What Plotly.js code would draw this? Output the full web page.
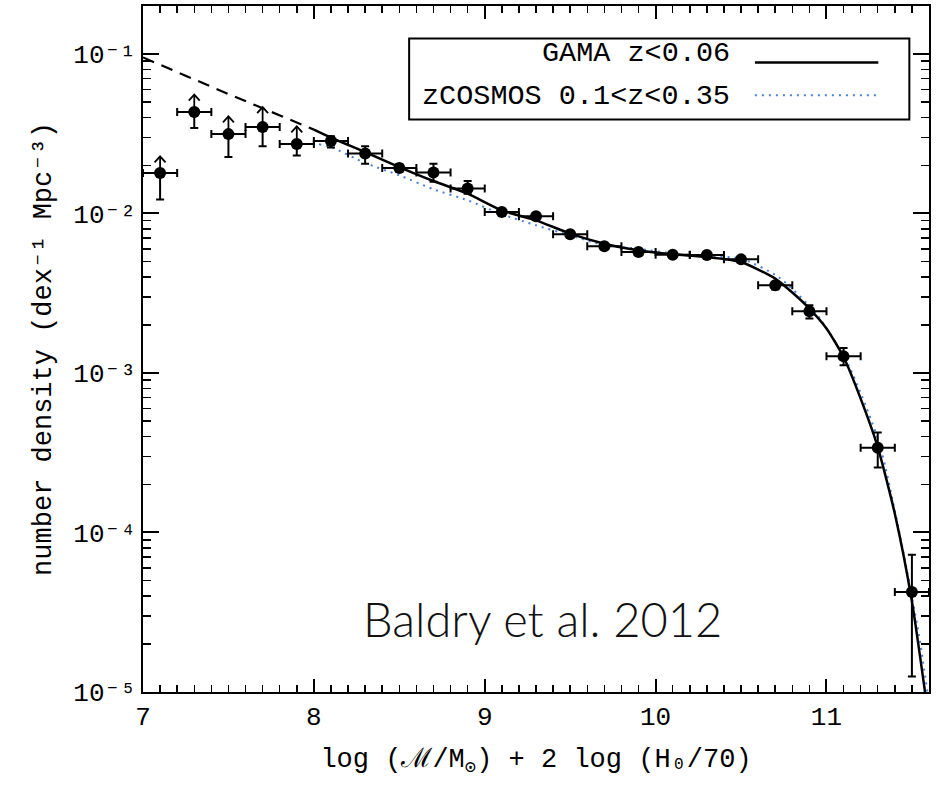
<!DOCTYPE html>
<html>
<head>
<meta charset="utf-8">
<script src="https://cdn.plot.ly/plotly-3.0.1.min.js"></script>
<style>html,body{margin:0;padding:0;background:#fff;}</style>
</head>
<body>
<div id="chart" style="width:943px;height:788px;"></div>
<script>
// ---- data ----
var massX   = [7.1, 7.3, 7.5, 7.7, 7.9, 8.1, 8.3, 8.5, 8.7, 8.9, 9.1, 9.3, 9.5, 9.7, 9.9, 10.1, 10.3, 10.5, 10.7, 10.9, 11.1, 11.3, 11.5];
var phi     = [0.0179, 0.0432, 0.0314, 0.0348, 0.0272, 0.0284, 0.0237, 0.01925, 0.01803, 0.0143, 0.0102, 0.00959, 0.0074, 0.00622, 0.00573, 0.00551, 0.00548, 0.00515, 0.00354, 0.002433, 0.00127, 0.00034, 4.24e-5];
var phiHi   = [0.0179, 0.0432, 0.0314, 0.0348, 0.0272, 0.0304, 0.02634, 0.0203, 0.0205, 0.01596, 0.0105, 0.0099, 0.00755, 0.0064, 0.0059, 0.00567, 0.00564, 0.00535, 0.00372, 0.002655, 0.001433, 0.000423, 7.26e-5];
var phiLo   = [0.01221, 0.03428, 0.02257, 0.02634, 0.02303, 0.02585, 0.0205, 0.01828, 0.0158, 0.0133, 0.0099, 0.0093, 0.00725, 0.00605, 0.00557, 0.00535, 0.00532, 0.00496, 0.00333, 0.002191, 0.001116, 0.000255, 1.25e-5];
var massHalfBin = [0.1, 0.1, 0.1, 0.1, 0.1, 0.1, 0.1, 0.1, 0.1, 0.1, 0.1, 0.1, 0.1, 0.1, 0.1, 0.1, 0.1, 0.1, 0.1, 0.1, 0.1, 0.1, 0.1];

// lower-limit points (upward arrows)
var limitX    = [7.1, 7.3, 7.5, 7.7, 7.9];
var limitBase = [0.0179, 0.0432, 0.0314, 0.0348, 0.0272];
var limitTip  = [0.0228, 0.0555, 0.0406, 0.04643, 0.03516];

// GAMA z<0.06 fit
var gamaX = [8.0, 8.1, 8.3, 8.5, 8.7, 8.9, 9.1, 9.3, 9.5, 9.7, 9.9, 10.1, 10.3, 10.5, 10.7, 10.8, 10.9, 11.0, 11.1, 11.2, 11.3, 11.4, 11.5, 11.6];
var gamaY = [0.03351, 0.02986, 0.02425, 0.01953, 0.01596, 0.0133, 0.01045, 0.00905, 0.00747, 0.00646, 0.00587, 0.00554, 0.00533, 0.00496, 0.0039, 0.00319, 0.00253, 0.0019, 0.001258, 0.00069, 0.000343, 0.000131, 3.7e-5, 6.6e-6];

// extrapolation of the fit (dashed)
var extX = [7.0, 7.5, 8.0];
var extY = [0.095, 0.056, 0.03351];

// zCOSMOS 0.1<z<0.35
var zcosX = [8.03, 8.1, 8.3, 8.5, 8.7, 8.9, 9.1, 9.3, 9.5, 9.7, 9.9, 10.1, 10.3, 10.5, 10.72, 10.94, 11.13, 11.31, 11.44, 11.54, 11.6];
var zcosY = [0.0271, 0.02607, 0.0207, 0.01733, 0.01416, 0.01208, 0.00987, 0.00842, 0.00729, 0.00631, 0.00601, 0.0056, 0.00538, 0.00521, 0.00399, 0.002355, 0.001116, 0.00036, 8.5e-5, 2.32e-5, 8.5e-6];

// axis ticks
var xTickVals = [7, 8, 9, 10, 11];
var xTickText = ['7', '8', '9', '10', '11'];
var yTickVals = [1e-5, 1e-4, 1e-3, 1e-2, 1e-1];
var yTickText = ['10⁻⁵', '10⁻⁴', '10⁻³', '10⁻²', '10⁻¹'];

var legendNames = ['GAMA z<0.06', 'zCOSMOS 0.1<z<0.35'];
var creditText = 'Baldry et al. 2012';

// ---- build ----
var mono = 'Liberation Mono, DejaVu Sans Mono, monospace';
var xRange = [7, 11.6], yRange = [-5, -0.7];
var errPlus = phi.map(function (v, i) { return phiHi[i] - v; });
var errMinus = phi.map(function (v, i) { return v - phiLo[i]; });

// arrow geometry (style constants: head half-width in x units, head height as log factor)
var headDx = 0.032, headF = Math.pow(10, -6 / 159.5);
var arrX = [], arrY = [];
limitX.forEach(function (x, i) {
  arrX.push(x, x, null, x - headDx, x, x + headDx, null);
  arrY.push(limitBase[i], limitTip[i], null, limitTip[i] * headF, limitTip[i], limitTip[i] * headF, null);
});

var traces = [
  { x: extX, y: extY, mode: 'lines', type: 'scatter', line: { color: 'black', width: 2.2, dash: '12px,8px' }, hoverinfo: 'skip' },
  { x: zcosX, y: zcosY, mode: 'lines', type: 'scatter', name: legendNames[1], line: { color: '#4a80d4', width: 2, dash: '2px,5px', shape: 'spline', smoothing: 0.6 } },
  { x: gamaX, y: gamaY, mode: 'lines', type: 'scatter', name: legendNames[0], line: { color: 'black', width: 2.5, shape: 'spline', smoothing: 0.6 } },
  { x: arrX, y: arrY, mode: 'lines', type: 'scatter', connectgaps: false, line: { color: 'black', width: 1.8 }, hoverinfo: 'skip' },
  { x: massX, y: phi, mode: 'markers', type: 'scatter',
    marker: { color: 'black', size: 12, symbol: 'circle' },
    error_x: { type: 'data', array: massHalfBin, color: 'black', thickness: 2, width: 4 },
    error_y: { type: 'data', symmetric: false, array: errPlus, arrayminus: errMinus, color: 'black', thickness: 2, width: 4 } },
  // carrier for the overlaid tick-mark axes (invisible)
  { x: [massX[0]], y: [phi[0]], xaxis: 'x2', yaxis: 'y2', mode: 'markers', type: 'scatter', marker: { opacity: 0, size: 1 }, hoverinfo: 'skip' }
];

// legend (text left, sample line right, boxed)
var legX0 = 0.3386, legX1 = 0.975, legY0 = 0.8344, legY1 = 0.9525;
var legTextX = 0.7489, legLineX0 = 0.7785, legLineX1 = 0.9355;
var legRowY = [0.9303, 0.8684];
var legLineY = [0.9175, 0.8698];
var annotations = [
  { xref: 'paper', yref: 'paper', x: legTextX, y: legRowY[0], xanchor: 'right', yanchor: 'middle', text: legendNames[0].replace(/</g, '&lt;'), showarrow: false, font: { family: mono, size: 28.5, color: 'black' } },
  { xref: 'paper', yref: 'paper', x: legTextX, y: legRowY[1], xanchor: 'right', yanchor: 'middle', text: legendNames[1].replace(/</g, '&lt;'), showarrow: false, font: { family: mono, size: 28.5, color: 'black' } },
  { xref: 'paper', yref: 'paper', x: 0.5087, y: 0.106, xanchor: 'center', yanchor: 'middle', text: creditText, showarrow: false, font: { family: 'Lato, Open Sans, sans-serif', size: 47, color: '#111', weight: 300 } }
];

var shapes = [
  { type: 'rect', xref: 'paper', yref: 'paper', x0: legX0, x1: legX1, y0: legY0, y1: legY1, line: { color: 'black', width: 2 }, fillcolor: 'white', layer: 'above' },
  { type: 'line', xref: 'paper', yref: 'paper', x0: legLineX0, x1: legLineX1, y0: legLineY[0], y1: legLineY[0], line: { color: 'black', width: 2.5 } },
  { type: 'line', xref: 'paper', yref: 'paper', x0: legLineX0, x1: legLineX1, y0: legLineY[1], y1: legLineY[1], line: { color: '#4a80d4', width: 2, dash: '2px,5px' } }
];

function tickAxis(extra) {
  var a = {
    ticks: 'inside', tickcolor: 'black', tickwidth: 2,
    showline: true, linewidth: 2, linecolor: 'black', mirror: 'allticks',
    showgrid: false, zeroline: false
  };
  for (var k in extra) a[k] = extra[k];
  return a;
}

var layout = {
  width: 943, height: 788,
  margin: { l: 143.3, r: 14, t: 5.7, b: 96.3, pad: 0 },
  showlegend: false,
  font: { family: mono, color: 'black' },
  xaxis: tickAxis({
    range: xRange, tickmode: 'array', tickvals: xTickVals, ticktext: xTickText, ticklen: 13,
    tickfont: { family: mono, size: 26 },
    minor: { tickmode: 'linear', tick0: 7, dtick: 0.1, ticks: 'inside', ticklen: 7, tickwidth: 1.5, tickcolor: 'black', showgrid: false },
    title: { text: 'log (ℳ/M<sub>⊙</sub>) + 2 log (H₀/70)', font: { family: mono, size: 27 }, standoff: 16 }
  }),
  yaxis: tickAxis({
    type: 'log', range: yRange, tickmode: 'array', tickvals: yTickVals, ticktext: yTickText, ticklen: 16,
    tickfont: { family: mono, size: 26 },
    minor: { tickmode: 'linear', dtick: 'D1', ticks: 'inside', ticklen: 8, tickwidth: 1.5, tickcolor: 'black', showgrid: false },
    title: { text: 'number density (dex⁻¹ Mpc⁻³)', font: { family: mono, size: 27 }, standoff: 14 }
  }),
  // overlaid copies of the axes that only carry the tick marks
  xaxis2: tickAxis({
    overlaying: 'x', anchor: 'y2', range: xRange, tickmode: 'array', tickvals: xTickVals, ticklen: 13, showticklabels: false,
    minor: { tickmode: 'linear', tick0: 7, dtick: 0.1, ticks: 'inside', ticklen: 7, tickwidth: 1.5, tickcolor: 'black', showgrid: false }
  }),
  yaxis2: tickAxis({
    overlaying: 'y', anchor: 'x2', type: 'log', range: yRange, tickmode: 'array', tickvals: yTickVals, ticklen: 16, showticklabels: false,
    minor: { tickmode: 'linear', dtick: 'D1', ticks: 'inside', ticklen: 8, tickwidth: 1.5, tickcolor: 'black', showgrid: false }
  }),
  annotations: annotations,
  shapes: shapes
};

Plotly.newPlot('chart', traces, layout, { displayModeBar: false, staticPlot: true });
</script>
</body>
</html>
